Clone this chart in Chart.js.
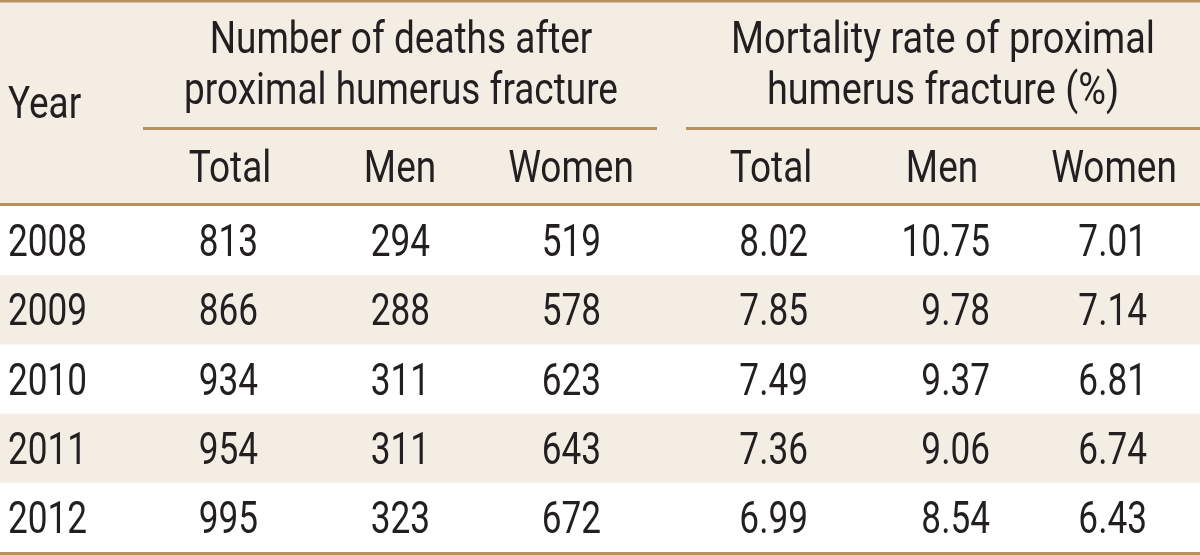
<!DOCTYPE html>
<html>
<head>
<meta charset="utf-8">
<script src="https://cdn.jsdelivr.net/npm/chart.js@4/dist/chart.umd.min.js"></script>
<style>
  html, body { margin: 0; padding: 0; background: #ffffff; }
  #wrap { width: 1200px; height: 555px; }
</style>
</head>
<body>
<div id="wrap"><canvas id="c" width="1200" height="555"></canvas></div>
<script>
// ---- data ----
const years = ['2008', '2009', '2010', '2011', '2012'];
const deathsTotal = [813, 866, 934, 954, 995];
const deathsMen = [294, 288, 311, 311, 323];
const deathsWomen = [519, 578, 623, 643, 672];
const rateTotal = [8.02, 7.85, 7.49, 7.36, 6.99];
const rateMen = [10.75, 9.78, 9.37, 9.06, 8.54];
const rateWomen = [7.01, 7.14, 6.81, 6.74, 6.43];
const rowHeader = 'Year';
const columnHeaders = ['Total', 'Men', 'Women', 'Total', 'Men', 'Women'];
const groupHeaders = [
  ['Number of deaths after', 'proximal humerus fracture'],
  ['Mortality rate of proximal', 'humerus fracture (%)']
];
const decimals = [0, 0, 0, 2, 2, 2];

// ---- layout (table units on the x scale) ----
const layout = {
  yearLeft: 8,
  valueRight: [258, 430, 601, 808, 990, 1147],
  headCenter: [230, 400, 571, 771, 942, 1114],
  groupCenter: [401, 943],
  groupRule: [[143, 657], [686, 1200]],
  groupRuleY: 127,
  groupBaselines: [53, 104],
  yearBaseline: 118,
  subBaseline: 182
};
const style = {
  font: "400 44px Roboto, 'Liberation Sans', 'DejaVu Sans', sans-serif",
  capRatio: 0.711,
  fontSize: 44,
  numScale: 0.80,
  wordScale: [0.84, 0.86],
  text: '#231f20',
  beige: '#f3ede4',
  rule: '#b8915f'
};

function drawText(ctx, t, x, y, align, sx) {
  ctx.save();
  ctx.translate(x, y);
  ctx.scale(sx, 1);
  ctx.textAlign = align;
  ctx.fillText(t, 0, 0);
  ctx.restore();
}

const tablePlugin = {
  id: 'tablePlugin',
  beforeDraw(chart) {
    const ctx = chart.ctx;
    const area = chart.chartArea;
    const yScale = chart.scales.y;
    ctx.save();
    ctx.fillStyle = '#ffffff';
    ctx.fillRect(0, 0, chart.width, chart.height);
    ctx.fillStyle = style.beige;
    ctx.fillRect(0, 0, chart.width, area.top);
    const n = chart.data.labels.length;
    const band = (area.bottom - area.top) / n;
    chart.data.labels.forEach((lab, i) => {
      if (i % 2 === 1) {
        const yc = yScale.getPixelForValue(i);
        ctx.fillStyle = style.beige;
        ctx.fillRect(area.left, yc - band / 2, area.right - area.left, band);
      }
    });
    ctx.restore();
  },
  afterDraw(chart) {
    const ctx = chart.ctx;
    const area = chart.chartArea;
    const xScale = chart.scales.x;
    const yScale = chart.scales.y;
    const X = v => xScale.getPixelForValue(v);
    ctx.save();
    ctx.font = style.font;
    ctx.fillStyle = style.text;
    ctx.textBaseline = 'alphabetic';
    const capHalf = style.fontSize * style.capRatio / 2;

    // header texts
    drawText(ctx, rowHeader, X(layout.yearLeft), layout.yearBaseline, 'left', style.wordScale[0]);
    groupHeaders.forEach((lines, g) => {
      lines.forEach((t, k) => drawText(ctx, t, X(layout.groupCenter[g]), layout.groupBaselines[k], 'center', style.wordScale[g]));
    });
    columnHeaders.forEach((t, c) => drawText(ctx, t, X(layout.headCenter[c]), layout.subBaseline, 'center', style.wordScale[0]));

    // body cells
    chart.data.labels.forEach((lab, i) => {
      const yb = yScale.getPixelForValue(i) + capHalf;
      drawText(ctx, lab, X(layout.yearLeft), yb, 'left', style.numScale);
      chart.data.datasets.forEach((ds, c) => {
        drawText(ctx, ds.data[i].toFixed(decimals[c]), X(layout.valueRight[c]), yb, 'right', style.numScale);
      });
    });

    // rules
    ctx.fillStyle = style.rule;
    ctx.fillRect(0, 0, chart.width, 2.5);
    layout.groupRule.forEach(([a, b]) => {
      ctx.fillRect(X(a), layout.groupRuleY, X(b) - X(a), 3);
    });
    ctx.fillRect(0, area.top - 3, chart.width, 3);
    ctx.fillRect(0, area.bottom, chart.width, chart.height - area.bottom);
    ctx.restore();
  }
};

const columns = [deathsTotal, deathsMen, deathsWomen, rateTotal, rateMen, rateWomen];
new Chart(document.getElementById('c'), {
  type: 'bar',
  data: {
    labels: years,
    datasets: columns.map((arr, c) => ({
      label: columnHeaders[c],
      data: arr,
      backgroundColor: 'rgba(0,0,0,0)',
      borderWidth: 0
    }))
  },
  options: {
    indexAxis: 'y',
    responsive: false,
    animation: false,
    devicePixelRatio: 1,
    layout: { padding: { top: 206, bottom: 3, left: 0, right: 0 } },
    plugins: { legend: { display: false }, tooltip: { enabled: false }, title: { display: false } },
    scales: {
      x: { type: 'linear', min: 0, max: 1200, display: false },
      y: { type: 'category', display: false, offset: true }
    }
  },
  plugins: [tablePlugin]
});
</script>
</body>
</html>
